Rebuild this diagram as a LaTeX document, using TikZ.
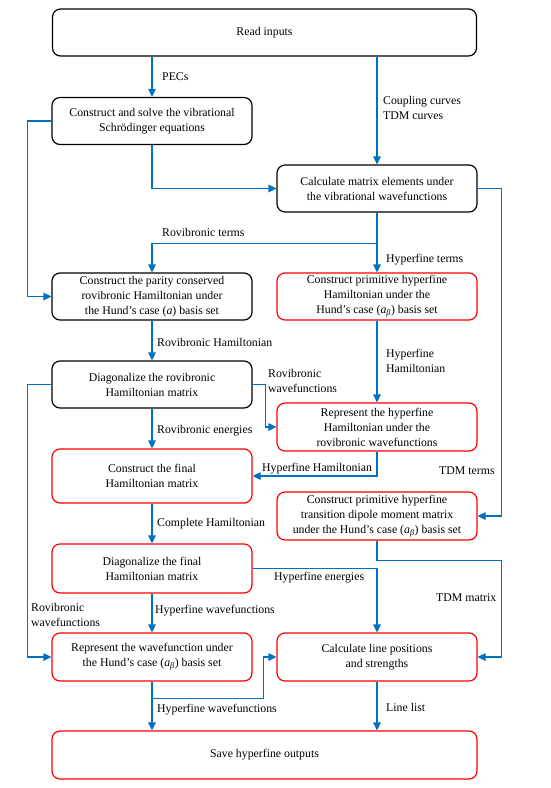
\documentclass[tikz,border=0pt]{standalone}
\usepackage{fontspec}
\setmainfont{Liberation Serif}
\usepackage{xcolor}
\usetikzlibrary{arrows.meta,positioning,calc}
\definecolor{flowblue}{RGB}{0,112,192}
\definecolor{boxred}{RGB}{255,0,0}

\tikzset{
    blk/.style={draw=black, line width=1.2pt, rounded corners=8pt, minimum width=200pt, minimum height=47pt, align=center, inner sep=2pt},
    redblk/.style={blk, draw=boxred},
    flow/.style={draw=flowblue, line width=1.2pt, -{Triangle[length=8pt,width=7.5pt]}},
    wire/.style={draw=flowblue, line width=1.2pt},
    lbl/.style={anchor=west, align=left, inner sep=0pt}
}

\begin{document}
\begin{tikzpicture}[x=1pt, y=-1pt, font=\fontsize{11.8}{15}\selectfont]
    \useasboundingbox (0,0) rectangle (551,788);
    % boxes
    \node[blk, minimum width=424pt] (inputs) at (264.5,32.5) {Read inputs};
    \node[blk] (vib) at (152,121) {Construct and solve the vibrational\\Schrödinger equations};
    \node[blk] (calc) at (377,188.5) {Calculate matrix elements under\\the vibrational wavefunctions};
    \node[blk] (parity) at (152,296.5) {Construct the parity conserved\\rovibronic Hamiltonian under\\the Hund’s case (\textit{a}) basis set};
    \node[redblk] (hfH) at (377,296.5) {Construct primitive hyperfine\\Hamiltonian under the\\Hund’s case (\textit{a}\textsubscript{\textit{β}}) basis set};
    \node[blk] (diagRo) at (152,384.5) {Diagonalize the rovibronic\\Hamiltonian matrix};
    \node[redblk, minimum height=48pt] (repHf) at (377,427) {Represent the hyperfine\\Hamiltonian under the\\rovibronic wavefunctions};
    \node[redblk, minimum height=54pt] (finalH) at (152,476) {Construct the final\\Hamiltonian matrix};
    \node[redblk, minimum height=48pt] (tdmBox) at (377,516) {Construct primitive hyperfine\\transition dipole moment matrix\\under the Hund’s case (\textit{a}\textsubscript{\textit{β}}) basis set};
    \node[redblk, minimum height=49pt] (diagF) at (152,568.5) {Diagonalize the final\\Hamiltonian matrix};
    \node[redblk, minimum height=48pt] (repWf) at (152,657) {Represent the wavefunction under\\the Hund’s case (\textit{a}\textsubscript{\textit{β}}) basis set};
    \node[redblk, minimum height=48pt] (lines) at (377,657) {Calculate line positions\\and strengths};
    \node[redblk, minimum width=425pt, minimum height=48pt] (save) at (264.5,755) {Save hyperfine outputs};

    % connectors
    \draw[flow] (vib.north |- inputs.south) -- (vib.north);
    \draw[flow] (calc.north |- inputs.south) -- (calc.north);
    \draw[flow] (vib.south) |- (calc.west);
    \draw[flow] (vib.west) -- ++(-24,0) |- (parity.west);
    \draw[flow] (calc.south) -- (hfH.north);
    \coordinate (split) at ($(calc.south)+(0,31)$);
    \draw[flow] (split) -| (parity.north);
    \draw[flow] (calc.east) -- ++(24,0) |- (tdmBox.east);
    \draw[flow] (parity.south) -- (diagRo.north);
    \draw[flow] (hfH.south) -- (repHf.north);
    \draw[flow] (diagRo.east) -- ++(13,0) |- (repHf.west);
    \draw[flow] (diagRo.south) -- (finalH.north);
    \draw[flow] (repHf.south) |- (finalH.east);
    \draw[flow] (finalH.south) -- (diagF.north);
    \draw[flow] (diagF.east) -| (lines.north);
    \draw[flow] (tdmBox.south) -- ++(0,20) -| ([xshift=24pt]lines.east) -- (lines.east);
    \draw[flow] (diagF.south) -- (repWf.north);
    \draw[flow] (diagRo.west) -- ++(-24,0) |- (repWf.west);
    \draw[flow] (repWf.south) -- (repWf.south |- save.north);
    \draw[flow] (repWf.south) -- ++(0,17) -| ([xshift=-13pt]lines.west) -- (lines.west);
    \draw[flow] (lines.south) -- (lines.south |- save.north);

    % labels
    \node[lbl] (lPEC) at (162,77) {PECs};
    \node[lbl] (lCoup) at (383,108) {Coupling curves\\TDM curves};
    \node[lbl] (lRoT) at (162,232) {Rovibronic terms};
    \node[lbl] (lHfT) at (386,260) {Hyperfine terms};
    \node[lbl] (lRoH) at (157,342) {Rovibronic Hamiltonian};
    \node[lbl] (lHfH) at (386,361) {Hyperfine\\Hamiltonian};
    \node[lbl] (lRoW) at (268,381) {Rovibronic\\wavefunctions};
    \node[lbl] (lRoE) at (157,431) {Rovibronic energies};
    \node[lbl] (lHfH2) at (262,469) {Hyperfine Hamiltonian};
    \node[lbl] (lTDMt) at (439,471) {TDM terms};
    \node[lbl] (lComp) at (157,524) {Complete Hamiltonian};
    \node[lbl] (lHfE) at (274,578) {Hyperfine energies};
    \node[lbl] (lTDMm) at (436,598) {TDM matrix};
    \node[lbl] (lRoW2) at (31,615) {Rovibronic\\wavefunctions};
    \node[lbl] (lHfW) at (155,611) {Hyperfine wavefunctions};
    \node[lbl] (lHfW2) at (157,710) {Hyperfine wavefunctions};
    \node[lbl] (lList) at (386,707) {Line list};
\end{tikzpicture}
\end{document}
